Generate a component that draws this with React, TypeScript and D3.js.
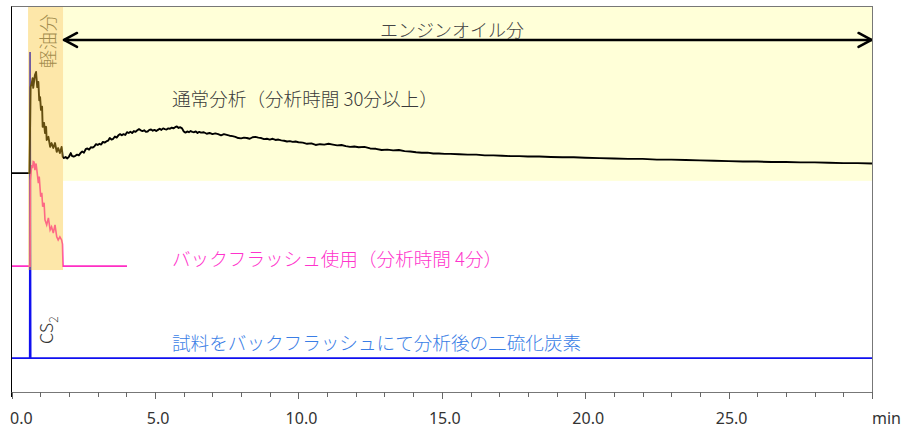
import React from 'react';
import * as d3 from 'd3';

const W = 911;
const H = 435;
const FONT = "'Noto Sans CJK JP', 'Noto Sans', sans-serif";
const TICK_FONT = "'Liberation Sans Narrow', 'Noto Sans', sans-serif";

// retention time axis (min)
const timeDomain = [0, 30];
const signalDomain = [0, 100];
const minorTicks = d3.range(0, 31, 1);
const majorTickValues = [0, 5, 10, 15, 20, 25, 30];
const tickLabelValues = [0, 5, 10, 15, 20, 25];
const tickLabels = ['0.0', '5.0', '10.0', '15.0', '20.0', '25.0'];
const unitLabel = 'min';

// regions (min / signal)
const dieselRegion = [0.57, 1.79];
const dieselRegionBottom = 31.6;
const engineOilRegion = [1.79, 30];
const engineOilRegionBottom = 54.7;
const arrowLevel = 91.2;

// 通常分析 (black): [time min, signal]
const normalTrace: [number, number][] = [
  [0, 56.7], [0.62, 56.7], [0.66, 79.0], [0.7, 80.1], [0.73, 81.3], [0.75, 78.8], [0.81, 82.1],
  [0.85, 82.9], [0.89, 79.0], [0.93, 80.3], [0.96, 75.6], [0.99, 76.4], [1.02, 73.1], [1.06, 73.9],
  [1.08, 68.7], [1.13, 69.7], [1.16, 67.1], [1.2, 68.7], [1.22, 65.3], [1.28, 66.1], [1.34, 63.5],
  [1.39, 64.5], [1.45, 63.2], [1.51, 64.5], [1.57, 62.2], [1.62, 63.2], [1.68, 61.9], [1.74, 63.5],
  [1.78, 60.9], [1.82, 60.6], [1.88, 60.9], [1.94, 60.5], [2.0, 61.0], [2.06, 61.9], [2.1, 61.2],
  [2.16, 61.0], [2.22, 61.2], [2.28, 61.5], [2.34, 61.3], [2.4, 61.9], [2.46, 62.3], [2.52, 62.0],
  [2.58, 62.9], [2.64, 63.1], [2.7, 62.8], [2.76, 63.4], [2.82, 63.3], [2.88, 63.6], [2.94, 64.2],
  [3.0, 64.0], [3.06, 64.3], [3.12, 64.1], [3.18, 64.8], [3.24, 64.6], [3.3, 64.9], [3.36, 65.1],
  [3.42, 65.8], [3.48, 65.4], [3.54, 65.6], [3.6, 66.2], [3.66, 65.9], [3.72, 66.5], [3.78, 66.8],
  [3.84, 66.5], [3.9, 66.8], [3.96, 66.6], [4.02, 67.3], [4.08, 67.1], [4.14, 67.4], [4.2, 67.1],
  [4.26, 67.6], [4.32, 67.4], [4.38, 67.8], [4.44, 68.1], [4.5, 67.8], [4.56, 67.6], [4.62, 67.8],
  [4.68, 67.4], [4.74, 67.5], [4.8, 67.9], [4.86, 68.0], [4.92, 67.7], [4.98, 67.9], [5.04, 67.6],
  [5.1, 67.9], [5.16, 68.2], [5.22, 67.9], [5.28, 68.3], [5.34, 68.1], [5.4, 68.0], [5.46, 68.3],
  [5.52, 68.2], [5.58, 68.5], [5.64, 68.3], [5.7, 68.6], [5.76, 68.8], [5.82, 68.4], [5.88, 68.6],
  [5.94, 68.3], [6.0, 67.5], [6.06, 67.2], [6.12, 67.5], [6.18, 67.3], [6.24, 67.6], [6.3, 67.4],
  [6.36, 67.3], [6.42, 67.5], [6.48, 67.1], [6.54, 67.4], [6.6, 67.2], [6.7, 67.3], [6.8, 66.9],
  [6.9, 67.1], [7.0, 66.8], [7.1, 67.0], [7.2, 66.8], [7.3, 66.5], [7.4, 66.8], [7.5, 66.6],
  [7.6, 66.4], [7.7, 66.3], [7.8, 66.1], [7.9, 65.8], [8.0, 65.7], [8.1, 65.9], [8.2, 65.8],
  [8.3, 65.6], [8.4, 66.0], [8.5, 66.1], [8.6, 65.9], [8.7, 65.8], [8.8, 65.5], [8.9, 65.6],
  [9.0, 65.4], [9.1, 65.6], [9.2, 65.3], [9.3, 65.4], [9.4, 65.2], [9.5, 65.1], [9.6, 64.9],
  [9.7, 65.0], [9.8, 64.8], [9.9, 64.9], [10.0, 64.7], [10.15, 64.6], [10.3, 64.3], [10.45, 64.4],
  [10.6, 64.0], [10.75, 64.2], [10.9, 64.1], [11.05, 64.3], [11.2, 64.1], [11.35, 63.9], [11.5, 64.0],
  [11.65, 63.7], [11.8, 63.5], [11.95, 63.6], [12.1, 63.4], [12.3, 63.5], [12.5, 63.1], [12.7, 63.0],
  [12.9, 62.7], [13.1, 62.8], [13.3, 62.6], [13.5, 62.7], [13.7, 62.4], [13.9, 62.3], [14.1, 62.1],
  [14.3, 62.0], [14.5, 62.0], [14.7, 61.8], [14.9, 61.8], [15.1, 61.7], [15.3, 61.7], [15.6, 61.6],
  [15.9, 61.5], [16.2, 61.5], [16.5, 61.3], [16.8, 61.3], [17.1, 61.2], [17.4, 61.1], [17.7, 61.1],
  [18.0, 61.0], [18.4, 61.0], [18.8, 60.9], [19.2, 60.8], [19.6, 60.8], [20.0, 60.7], [20.5, 60.6],
  [21.0, 60.5], [21.5, 60.4], [22.0, 60.4], [22.5, 60.2], [23.0, 60.2], [23.5, 60.1], [24.0, 60.0],
  [24.5, 59.9], [25.0, 59.8], [25.5, 59.7], [26.0, 59.7], [26.5, 59.6], [27.0, 59.6], [27.5, 59.5],
  [28.0, 59.5], [28.5, 59.4], [29.0, 59.3], [29.5, 59.3], [30.0, 59.2],
];

// バックフラッシュ使用 (pink): [time min, signal]
const backflushTrace: [number, number][] = [
  [0, 32.6], [0.64, 32.6], [0.65, 54.9], [0.7, 58.8], [0.73, 58.0], [0.75, 59.7], [0.78, 59.6],
  [0.81, 57.5], [0.85, 59.2], [0.89, 56.7], [0.93, 54.1], [0.96, 55.8], [1.01, 50.6], [1.05, 51.6],
  [1.08, 48.0], [1.13, 49.0], [1.16, 44.6], [1.22, 43.3], [1.28, 45.1], [1.34, 42.0], [1.39, 42.8],
  [1.45, 41.2], [1.51, 43.3], [1.57, 40.2], [1.62, 39.4], [1.68, 40.2], [1.74, 39.4], [1.77, 38.3],
  [1.79, 32.6], [4.02, 32.6],
];

// 二硫化炭素 CS2 (blue): [time min, signal]
const cs2Trace: [number, number][] = [
  [0, 8.8], [0.63, 8.8], [0.64, 88.1], [0.66, 8.8], [30, 8.8],
];

const x = d3.scaleLinear().domain(timeDomain).range([11.7, 872]);
const y = d3.scaleLinear().domain(signalDomain).range([392, 6]);

const line = d3
  .line<[number, number]>()
  .x((d) => x(d[0]))
  .y((d) => y(d[1]));

export default function App() {
  const yBottom = 392;
  const arrowY = y(arrowLevel);
  const aL = x(engineOilRegion[0]) + 1;
  const aR = x(engineOilRegion[1]) - 0.5;
  return (
    <svg
      width={W}
      height={H}
      style={{ position: 'absolute', left: 0, top: 0, background: '#fff' }}
      fontFamily={FONT}
    >
      {/* engine oil region */}
      <rect
        x={x(engineOilRegion[0])}
        y={y(100)}
        width={x(engineOilRegion[1]) - x(engineOilRegion[0])}
        height={y(engineOilRegionBottom) - y(100)}
        fill="#ffffd8"
      />
      {/* traces */}
      <path d={line(cs2Trace) || ''} fill="none" stroke="#1010f0" strokeWidth={1.8} />
      <path d={line(backflushTrace) || ''} fill="none" stroke="#ff2ec4" strokeWidth={1.6} />
      <path d={line(normalTrace) || ''} fill="none" stroke="#000" strokeWidth={1.9} strokeLinejoin="round" />

      {/* diesel label (under overlay) */}
      <text
        transform={`translate(${47},${41}) rotate(-90)`}
        textAnchor="middle"
        dominantBaseline="central"
        fontSize={18}
        fontWeight={300}
        fill="#666"
      >
        軽油分
      </text>
      {/* diesel overlay */}
      <rect
        x={x(dieselRegion[0])}
        y={y(100)}
        width={x(dieselRegion[1]) - x(dieselRegion[0])}
        height={y(dieselRegionBottom) - y(100)}
        fill="rgb(250,195,40)"
        fillOpacity={0.4}
      />

      {/* arrow */}
      <g stroke="#000" strokeWidth={2.5} fill="none" strokeLinecap="round" strokeLinejoin="round">
        <line x1={aL} y1={arrowY} x2={aR} y2={arrowY} />
        <polyline points={`${aL + 13},${arrowY - 7} ${aL},${arrowY} ${aL + 13},${arrowY + 7}`} />
        <polyline points={`${aR - 13},${arrowY - 7} ${aR},${arrowY} ${aR - 13},${arrowY + 7}`} />
      </g>
      <text x={452} y={37} textAnchor="middle" fontSize={18} fontWeight={300} fill="#444">
        エンジンオイル分
      </text>

      <text x={172} y={106} fontSize={18.6} fontWeight={300} fill="#3a3a3a">
        通常分析（分析時間 30分以上）
      </text>
      <text x={172} y={266} fontSize={18.6} fontWeight={300} fill="#ff33cc">
        バックフラッシュ使用（分析時間 4分）
      </text>
      <text x={172} y={350} fontSize={18.6} fontWeight={300} fill="#3a7ee6">
        試料をバックフラッシュにて分析後の二硫化炭素
      </text>
      <text transform={`translate(${53},${344}) rotate(-90)`} fontSize={18} fontWeight={300} fill="#333">
        CS<tspan fontSize={12} dy={5}>2</tspan>
      </text>

      {/* frame */}
      <line x1={11.5} y1={6} x2={11.5} y2={397} stroke="#000" strokeWidth={1} />
      <line x1={11.5} y1={6.5} x2={872.5} y2={6.5} stroke="#777" strokeWidth={1} />
      <line x1={872.5} y1={6} x2={872.5} y2={397} stroke="#777" strokeWidth={1} />
      <line x1={11.5} y1={yBottom + 0.5} x2={872.5} y2={yBottom + 0.5} stroke="#777" strokeWidth={1} />
      {minorTicks.map((t) => (
        <line
          key={t}
          x1={Math.round(x(t)) + 0.5}
          x2={Math.round(x(t)) + 0.5}
          y1={yBottom}
          y2={majorTickValues.includes(t) ? yBottom + 7 : yBottom + 5}
          stroke="#666"
          strokeWidth={1}
        />
      ))}
      {tickLabelValues.map((t, i) => (
        <text
          key={t}
          x={t === 0 ? 10 : x(t) + 3}
          y={424}
          textAnchor={t === 0 ? 'start' : 'middle'}
          fontSize={16}
          fontFamily={TICK_FONT}
          fill="#333"
        >
          {tickLabels[i]}
        </text>
      ))}
      <text x={901} y={424} textAnchor="end" fontSize={16} fontFamily={TICK_FONT} fill="#333">
        {unitLabel}
      </text>
    </svg>
  );
}
